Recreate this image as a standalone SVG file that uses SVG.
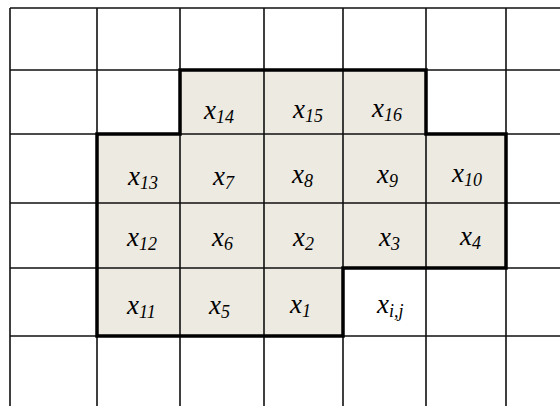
<svg xmlns="http://www.w3.org/2000/svg" width="560" height="408" viewBox="0 0 560 408">
<style>
.g{stroke:#111;stroke-width:1.6;fill:none}
.b{stroke:#000;stroke-width:3.5;fill:none;stroke-linejoin:miter}
text{font-family:'Liberation Serif','Times New Roman',serif;font-style:italic;font-size:27px;fill:#000}
.s{font-size:18px}
</style>
<rect width="560" height="408" fill="#fff"/>
<path id="shade" d="M97,134 H180 V70 H426 V134 H506 V268 H343 V336 H97 Z" fill="#ECEAE1"/>
<g id="connectors">
<path class="g" d="M10,8 H560 M10,70 H560 M10,134 H560 M10,203 H560 M10,268 H560 M10,336 H560"/>
<path class="g" d="M10,8 V406 M97,8 V406 M180,8 V406 M264,8 V406 M343,8 V406 M426,8 V406 M506,8 V406"/>
<path class="b" d="M97,336 V134 H180 V70 H426 V134 H506 V268 H343 V336 Z"/>
</g>
<g id="x14"><text x="204" y="119">x<tspan class="s" dy="4">14</tspan></text></g>
<g id="x15"><text x="293" y="118">x<tspan class="s" dy="4">15</tspan></text></g>
<g id="x16"><text x="372" y="117">x<tspan class="s" dy="4">16</tspan></text></g>
<g id="x13"><text x="128" y="185">x<tspan class="s" dy="4">13</tspan></text></g>
<g id="x7"><text x="213" y="185">x<tspan class="s" dy="4">7</tspan></text></g>
<g id="x8"><text x="292" y="183">x<tspan class="s" dy="4">8</tspan></text></g>
<g id="x9"><text x="377" y="183">x<tspan class="s" dy="4">9</tspan></text></g>
<g id="x10"><text x="452" y="182">x<tspan class="s" dy="4">10</tspan></text></g>
<g id="x12"><text x="127" y="246">x<tspan class="s" dy="4">12</tspan></text></g>
<g id="x6"><text x="212" y="246">x<tspan class="s" dy="4">6</tspan></text></g>
<g id="x2"><text x="293" y="246">x<tspan class="s" dy="4">2</tspan></text></g>
<g id="x3"><text x="379" y="246">x<tspan class="s" dy="4">3</tspan></text></g>
<g id="x4"><text x="460" y="245">x<tspan class="s" dy="4">4</tspan></text></g>
<g id="x11"><text x="127" y="314">x<tspan class="s" dy="4">11</tspan></text></g>
<g id="x5"><text x="209" y="314">x<tspan class="s" dy="4">5</tspan></text></g>
<g id="x1"><text x="290" y="313">x<tspan class="s" dy="4">1</tspan></text></g>
<g id="xij"><text x="377" y="313">x<tspan class="s" dy="4">i,j</tspan></text></g>
</svg>
